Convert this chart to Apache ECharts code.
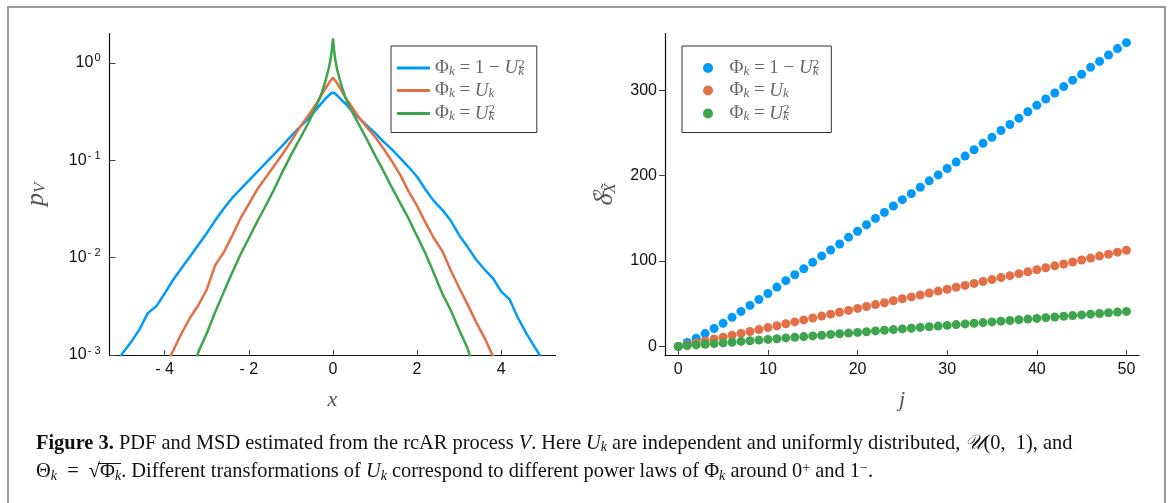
<!DOCTYPE html>
<html>
<head>
<meta charset="utf-8">
<script src="https://cdn.jsdelivr.net/npm/echarts@6/dist/echarts.min.js"></script>
<style>
  html, body { margin: 0; padding: 0; background: #ffffff; }
  #chart { width: 1169px; height: 503px; }
</style>
</head>
<body>
<div id="chart"></div>
<script>
// ---- Left panel: estimated PDF p_V(x) on a log scale ----
const xGrid = [-5.2, -5.0, -4.8, -4.6, -4.4, -4.2, -4.0, -3.8, -3.6, -3.4, -3.2, -3.0, -2.8, -2.6, -2.4,
  -2.2, -2.0, -1.8, -1.6, -1.4, -1.2, -1.0, -0.8, -0.6, -0.4, -0.3, -0.2, -0.1, -0.05, -0.025, 0,
  0.025, 0.05, 0.1, 0.2, 0.3, 0.4, 0.6, 0.8, 1.0, 1.2, 1.4, 1.6, 1.8, 2.0, 2.2, 2.4, 2.6, 2.8, 3.0,
  3.2, 3.4, 3.6, 3.8, 4.0, 4.2, 4.4, 4.6, 4.8, 5.0, 5.2];

const pdfOneMinusU2 = [0.00076, 0.00104, 0.00135, 0.00182, 0.00269, 0.00316, 0.00427, 0.00589, 0.00776,
  0.0102, 0.0135, 0.0178, 0.0240, 0.0316, 0.0407, 0.0501, 0.0617, 0.0759, 0.0933, 0.115, 0.141, 0.176,
  0.216, 0.263, 0.331, 0.372, 0.417, 0.462, 0.484, 0.492, 0.495,
  0.492, 0.484, 0.462, 0.417, 0.380, 0.339, 0.275, 0.229, 0.191, 0.155, 0.129, 0.105, 0.0851, 0.0676,
  0.0501, 0.0380, 0.0309, 0.0240, 0.0170, 0.0129, 0.00955, 0.00759, 0.00617, 0.00447, 0.00372, 0.00240,
  0.00166, 0.00120, 0.00087, 0.00063];

const pdfU = [null, null, null, null, null, null, 0.00076, 0.00110, 0.00166, 0.00240, 0.00324, 0.00468,
  0.00832, 0.0112, 0.0166, 0.0251, 0.0355, 0.0501, 0.0661, 0.0871, 0.115, 0.155, 0.214, 0.282, 0.376,
  0.447, 0.525, 0.617, 0.661, 0.684, 0.700,
  0.684, 0.661, 0.617, 0.525, 0.437, 0.380, 0.282, 0.219, 0.174, 0.132, 0.0977, 0.0708, 0.0479, 0.0339,
  0.0229, 0.0158, 0.0117, 0.00741, 0.00490, 0.00331, 0.00219, 0.00151, 0.00098, 0.00063,
  null, null, null, null, null, null];

const pdfU2 = [null, null, null, null, null, null, null, null, null, 0.0005, 0.00107, 0.00166, 0.00275,
  0.00437, 0.00692, 0.0107, 0.0158, 0.0234, 0.0339, 0.0501, 0.0759, 0.112, 0.162, 0.234, 0.355, 0.447,
  0.603, 0.871, 1.12, 1.38, 1.78,
  1.38, 1.12, 0.851, 0.589, 0.437, 0.347, 0.240, 0.166, 0.112, 0.0776, 0.0525, 0.0363, 0.0251, 0.0166,
  0.0110, 0.00692, 0.00427, 0.00288, 0.00182, 0.00117, 0.00063,
  null, null, null, null, null, null, null, null, null];

// ---- Right panel: MSD versus lag j ----
const lagJ = [0, 1, 2, 3, 4, 5, 6, 7, 8, 9, 10, 11, 12, 13, 14, 15, 16, 17, 18, 19, 20, 21, 22, 23, 24, 25,
  26, 27, 28, 29, 30, 31, 32, 33, 34, 35, 36, 37, 38, 39, 40, 41, 42, 43, 44, 45, 46, 47, 48, 49, 50];

const msdOneMinusU2 = [0, 4.5, 9.5, 15, 21, 27, 34, 41, 48, 55, 62, 69.5, 77, 84, 91, 98.5, 106, 113, 120,
  128, 135, 142.5, 150, 157, 164.5, 172, 179, 186.5, 194, 201, 208.5, 216, 223, 230.5, 238, 245, 253,
  260, 267.5, 275, 282.5, 290, 297, 304.5, 312, 319, 327, 334, 341.5, 349, 356];

const msdU = [0, 2, 4.2, 6.4, 8.6, 10.8, 13, 15.2, 17.5, 19.7, 22, 24.2, 26.5, 28.7, 31, 33.3, 35.5, 37.8,
  40, 42.2, 44.5, 46.7, 49, 51.2, 53.5, 55.8, 58, 60.2, 62.5, 64.8, 67, 69.3, 71.5, 73.8, 76, 78.3, 80.6,
  82.9, 85.2, 87.5, 89.8, 92.1, 94.4, 96.6, 98.9, 101.2, 103.5, 105.8, 108.1, 110.4, 112.7];

const msdU2 = [0, 0.9, 1.7, 2.5, 3.3, 4.1, 4.9, 5.8, 6.6, 7.4, 8.2, 9.0, 9.9, 10.7, 11.5, 12.3, 13.1, 14.0,
  14.8, 15.6, 16.4, 17.2, 18.1, 18.9, 19.7, 20.5, 21.3, 22.2, 23.0, 23.8, 24.6, 25.5, 26.3, 27.1, 27.9,
  28.7, 29.6, 30.4, 31.2, 32.0, 32.8, 33.7, 34.5, 35.3, 36.1, 36.9, 37.8, 38.6, 39.4, 40.2, 41.0];

// ---- Tick labels ----
const pdfXTicks = [-4, -2, 0, 2, 4];
const pdfYTicks = [0.001, 0.01, 0.1, 1];
const msdXTicks = [0, 10, 20, 30, 40, 50];
const msdYTicks = [0, 100, 200, 300];

const seriesColors = ['#009AFA', '#E36F47', '#3EA44E'];
const pdfNames = ['pdf 1-U2', 'pdf U', 'pdf U2'];
const msdNames = ['msd 1-U2', 'msd U', 'msd U2'];
const legendTexts = [
  'Φ{k|k} = 1 − {i|U}{s0|2}{k|k}',
  'Φ{k|k} = {i|U}{k|k}',
  'Φ{k|k} = {i|U}{s0|2}{k|k}'
];

const mathFont = '"Liberation Serif", "DejaVu Serif", serif';
const tickFont = '"Liberation Sans", Arial, sans-serif';
const legendRich = {
  i: { fontFamily: mathFont, fontStyle: 'italic', fontSize: 19, color: '#666' },
  k: { fontFamily: mathFont, fontStyle: 'italic', fontSize: 13, color: '#666', verticalAlign: 'bottom', padding: [7, 0, 0, 0] },
  s0: { fontFamily: mathFont, fontSize: 13, color: '#666', width: 0, verticalAlign: 'top', padding: [0, 0, 7, 0] }
};

function pairs(xs, ys) {
  return xs.map((x, i) => [x, ys[i]]);
}

const chart = echarts.init(document.getElementById('chart'), null, { renderer: 'canvas' });

const axisLineStyle = { color: '#111', width: 1.2 };
const tickStyle = { color: '#444', width: 1 };
const legendBase = {
  orient: 'vertical', itemWidth: 33, itemGap: 3,
  borderColor: '#333', borderWidth: 1, backgroundColor: '#fff',
  textStyle: { fontFamily: mathFont, fontSize: 19, color: '#666', rich: legendRich }
};

const option = {
  backgroundColor: '#ffffff',
  animation: false,
  grid: [
    { left: 109.5, top: 33.5, width: 446, height: 321.5 },
    { left: 665, top: 33.5, width: 474, height: 321.5 }
  ],
  xAxis: [
    {
      gridIndex: 0, type: 'value', min: -5.31, max: 5.29,
      name: 'x', nameLocation: 'middle', nameGap: 34,
      nameTextStyle: { fontFamily: mathFont, fontStyle: 'italic', fontSize: 22, color: '#555' },
      axisLine: { onZero: false, lineStyle: axisLineStyle },
      axisTick: { inside: true, length: 5, lineStyle: tickStyle, customValues: pdfXTicks },
      axisLabel: {
        customValues: pdfXTicks, margin: 7, fontFamily: tickFont, fontSize: 16, color: '#111',
        formatter: v => (v < 0 ? '- ' + Math.abs(v) : String(v))
      },
      splitLine: { show: false }
    },
    {
      gridIndex: 1, type: 'value', min: -1.48, max: 51.4,
      name: 'j', nameLocation: 'middle', nameGap: 34,
      nameTextStyle: { fontFamily: mathFont, fontStyle: 'italic', fontSize: 22, color: '#555' },
      axisLine: { onZero: false, lineStyle: axisLineStyle },
      axisTick: { inside: true, length: 5, lineStyle: tickStyle, customValues: msdXTicks },
      axisLabel: { customValues: msdXTicks, margin: 7, fontFamily: tickFont, fontSize: 16, color: '#111' },
      splitLine: { show: false }
    }
  ],
  yAxis: [
    {
      gridIndex: 0, type: 'log', logBase: 10, min: 0.001, max: 2.0,
      name: 'p{v|V}', nameLocation: 'middle', nameGap: 60, nameRotate: 90,
      nameTextStyle: {
        fontFamily: mathFont, fontStyle: 'italic', fontSize: 26, color: '#555',
        rich: { v: { fontFamily: mathFont, fontStyle: 'italic', fontSize: 17, color: '#555', verticalAlign: 'bottom', padding: [10, 0, 0, 0] } }
      },
      axisLine: { onZero: false, lineStyle: axisLineStyle },
      axisTick: { inside: true, length: 6, lineStyle: tickStyle, customValues: pdfYTicks },
      axisLabel: {
        customValues: pdfYTicks, margin: 9, fontFamily: tickFont, fontSize: 16, color: '#111',
        formatter: v => {
          const e = Math.round(Math.log10(v));
          return '10{e|' + (e < 0 ? '- ' + (-e) : e) + '}';
        },
        rich: { e: { fontFamily: tickFont, fontSize: 11, color: '#111', verticalAlign: 'top', padding: [0, 0, 9, 1] } }
      },
      splitLine: { show: false }
    },
    {
      gridIndex: 1, type: 'value', min: -10.1, max: 366.7,
      name: 'δ{s|2}{x|X̃}', nameLocation: 'middle', nameGap: 46, nameRotate: 90,
      nameTextStyle: {
        fontFamily: mathFont, fontStyle: 'italic', fontSize: 26, color: '#555',
        rich: {
          s: { fontFamily: mathFont, fontSize: 17, color: '#555', width: 0, verticalAlign: 'top', padding: [0, 0, 11, 0] },
          x: { fontFamily: mathFont, fontStyle: 'italic', fontSize: 17, color: '#555', verticalAlign: 'bottom', padding: [11, 0, 0, 0] }
        }
      },
      axisLine: { onZero: false, lineStyle: axisLineStyle },
      axisTick: { inside: false, length: 6, lineStyle: tickStyle, customValues: msdYTicks },
      axisLabel: { customValues: msdYTicks, margin: 8, fontFamily: tickFont, fontSize: 16, color: '#111' },
      splitLine: { show: false }
    }
  ],
  legend: [
    Object.assign({}, legendBase, {
      data: pdfNames, left: 391, top: 46, icon: 'rect', itemHeight: 3,
      padding: [12, 12, 9, 6],
      formatter: name => legendTexts[pdfNames.indexOf(name)]
    }),
    Object.assign({}, legendBase, {
      data: msdNames, left: 682, top: 46, itemHeight: 10,
      padding: [12, 12, 9, 21],
      formatter: name => legendTexts[msdNames.indexOf(name)]
    })
  ],
  series: [
    { name: pdfNames[0], type: 'line', xAxisIndex: 0, yAxisIndex: 0, data: pairs(xGrid, pdfOneMinusU2), showSymbol: false, symbol: 'none', lineStyle: { width: 2.5, color: seriesColors[0] }, itemStyle: { color: seriesColors[0] } },
    { name: pdfNames[1], type: 'line', xAxisIndex: 0, yAxisIndex: 0, data: pairs(xGrid, pdfU), showSymbol: false, symbol: 'none', lineStyle: { width: 2.5, color: seriesColors[1] }, itemStyle: { color: seriesColors[1] } },
    { name: pdfNames[2], type: 'line', xAxisIndex: 0, yAxisIndex: 0, data: pairs(xGrid, pdfU2), showSymbol: false, symbol: 'none', lineStyle: { width: 2.5, color: seriesColors[2] }, itemStyle: { color: seriesColors[2] } },
    { name: msdNames[0], type: 'scatter', xAxisIndex: 1, yAxisIndex: 1, data: pairs(lagJ, msdOneMinusU2), symbolSize: 9, itemStyle: { color: seriesColors[0], opacity: 1 } },
    { name: msdNames[1], type: 'scatter', xAxisIndex: 1, yAxisIndex: 1, data: pairs(lagJ, msdU), symbolSize: 9, itemStyle: { color: seriesColors[1], opacity: 1 } },
    { name: msdNames[2], type: 'scatter', xAxisIndex: 1, yAxisIndex: 1, data: pairs(lagJ, msdU2), symbolSize: 9, itemStyle: { color: seriesColors[2], opacity: 1 } }
  ],
  graphic: [
    // figure frame
    { type: 'rect', shape: { x: 8, y: 7, width: 1157, height: 520 }, style: { fill: 'none', stroke: '#999', lineWidth: 2 }, silent: true },
    // caption, first line
    {
      type: 'text', left: 36, top: 434, silent: true,
      style: {
        text: '{b|Figure 3.} PDF and MSD estimated from the rcAR process {i|V}. Here {i|U}{k|k} are independent and uniformly distributed, {c|𝒰}(0,  1), and',
        fontFamily: mathFont, fontSize: 20.4, fill: '#111',
        rich: {
          b: { fontFamily: mathFont, fontWeight: 'bold', fontSize: 20.4, color: '#111' },
          i: { fontFamily: mathFont, fontStyle: 'italic', fontSize: 20.4, color: '#111' },
          k: { fontFamily: mathFont, fontStyle: 'italic', fontSize: 14, color: '#111', verticalAlign: 'bottom', padding: [7, 0, 0, 0] },
          c: { fontFamily: mathFont, fontStyle: 'italic', fontSize: 20.4, color: '#111' }
        }
      }
    },
    // caption, second line
    {
      type: 'text', left: 36, top: 461, silent: true,
      style: {
        text: 'Θ{k|k}  =  √Φ{k|k}. Different transformations of {i|U}{k|k} correspond to different power laws of Φ{k|k} around 0{s|+} and 1{s|−}.',
        fontFamily: mathFont, fontSize: 20.4, fill: '#111',
        rich: {
          i: { fontFamily: mathFont, fontStyle: 'italic', fontSize: 20.4, color: '#111' },
          k: { fontFamily: mathFont, fontStyle: 'italic', fontSize: 14, color: '#111', verticalAlign: 'bottom', padding: [7, 0, 0, 0] },
          s: { fontFamily: mathFont, fontSize: 14, color: '#111', verticalAlign: 'top', padding: [0, 0, 8, 0] }
        }
      }
    },
    // radical bar over Φk
    { type: 'line', shape: { x1: 98, y1: 463.5, x2: 121, y2: 463.5 }, style: { stroke: '#111', lineWidth: 1 }, silent: true }
  ]
};

chart.setOption(option);
</script>
</body>
</html>
